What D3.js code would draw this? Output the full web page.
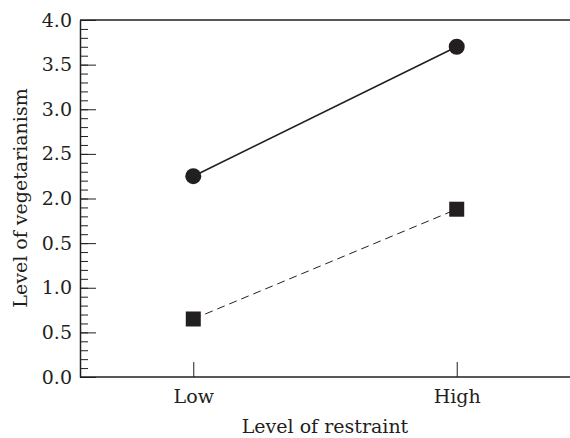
<!DOCTYPE html>
<html>
<head>
<meta charset="utf-8">
<script src="https://cdn.jsdelivr.net/npm/d3@7"></script>
<style>
  body { margin: 0; background: #fff; }
  svg { display: block; }
  text { font-family: "DejaVu Serif", serif; fill: #231f20; }
</style>
</head>
<body>
<svg id="chart" width="570" height="438"></svg>
<script>
// Data
const restraint = ["Low", "High"];
const solidSeries = [2.25, 3.7];   // circles, solid line
const dashedSeries = [0.65, 1.88]; // squares, dashed line
const yMajorTicks = [0, 0.5, 1, 1.5, 2, 2.5, 3, 3.5, 4];
// the printed figure labels 1.5 as "0.5", kept as in the source
const yTickLabels = ["0.0", "0.5", "1.0", "0.5", "2.0", "2.5", "3.0", "3.5", "4.0"];
const yMinorTicks = d3.range(0, 41).map(d => d / 10);

const width = 570, height = 438;
const margin = { top: 20, right: 0, bottom: 61, left: 80 };
const fontSize = '19px';

const svg = d3.select('#chart');
const ink = '#231f20';

const x = d3.scalePoint()
    .domain(restraint)
    .range([margin.left, width - margin.right])
    .padding(0.43);

const y = d3.scaleLinear()
    .domain([0, 4])
    .range([height - margin.bottom, margin.top]);

// top border line
svg.append('line')
    .attr('x1', margin.left).attr('x2', width)
    .attr('y1', y(4)).attr('y2', y(4))
    .attr('stroke', ink).attr('stroke-width', 1.5);

// minor ticks on left axis (inward)
svg.append('g')
    .attr('transform', `translate(${margin.left},0)`)
    .call(d3.axisLeft(y).tickValues(yMinorTicks).tickSizeInner(-8).tickSizeOuter(0).tickFormat(''))
    .call(g => g.select('.domain').remove())
    .call(g => g.selectAll('line').attr('stroke', ink).attr('stroke-width', 1));

// major ticks + labels on left axis
const yAxis = svg.append('g')
    .attr('transform', `translate(${margin.left},0)`)
    .call(d3.axisLeft(y).tickValues(yMajorTicks).tickSizeInner(-16).tickSizeOuter(0)
        .tickPadding(8).tickFormat((d, i) => yTickLabels[i]));
yAxis.select('.domain').attr('stroke', ink).attr('stroke-width', 1.5);
yAxis.selectAll('line').attr('stroke', ink).attr('stroke-width', 1);
yAxis.selectAll('text').style('font-size', fontSize).attr('fill', ink);

// bottom axis, ticks upward
const xAxis = svg.append('g')
    .attr('transform', `translate(0,${y(0)})`)
    .call(d3.axisBottom(x).tickSizeInner(-15).tickSizeOuter(0).tickPadding(13));
xAxis.select('.domain')
    .attr('d', `M${margin.left},0H${width}`)
    .attr('stroke', ink).attr('stroke-width', 1.5);
xAxis.selectAll('line').attr('stroke', ink).attr('stroke-width', 1);
xAxis.selectAll('text').style('font-size', fontSize).attr('fill', ink);

// axis titles
svg.append('text')
    .attr('x', 325)
    .attr('y', 433)
    .attr('text-anchor', 'middle')
    .style('font-size', fontSize)
    .text('Level of restraint');

svg.append('text')
    .attr('transform', `translate(27,198) rotate(-90)`)
    .attr('text-anchor', 'middle')
    .style('font-size', fontSize)
    .text('Level of vegetarianism');

// lines
const line = d3.line()
    .x((d, i) => x(restraint[i]))
    .y(d => y(d));

svg.append('path')
    .datum(solidSeries)
    .attr('d', line)
    .attr('fill', 'none')
    .attr('stroke', ink)
    .attr('stroke-width', 1.6);

svg.append('path')
    .datum(dashedSeries)
    .attr('d', line)
    .attr('fill', 'none')
    .attr('stroke', ink)
    .attr('stroke-width', 1)
    .attr('stroke-dasharray', '8,5');

// markers
svg.selectAll('circle.pt')
    .data(solidSeries)
    .enter()
    .append('circle')
    .attr('class', 'pt')
    .attr('cx', (d, i) => x(restraint[i]))
    .attr('cy', d => y(d))
    .attr('r', 8)
    .attr('fill', ink);

const sq = 15;
svg.selectAll('rect.pt')
    .data(dashedSeries)
    .enter()
    .append('rect')
    .attr('class', 'pt')
    .attr('x', (d, i) => x(restraint[i]) - sq / 2)
    .attr('y', d => y(d) - sq / 2)
    .attr('width', sq)
    .attr('height', sq)
    .attr('fill', ink);
</script>
</body>
</html>
